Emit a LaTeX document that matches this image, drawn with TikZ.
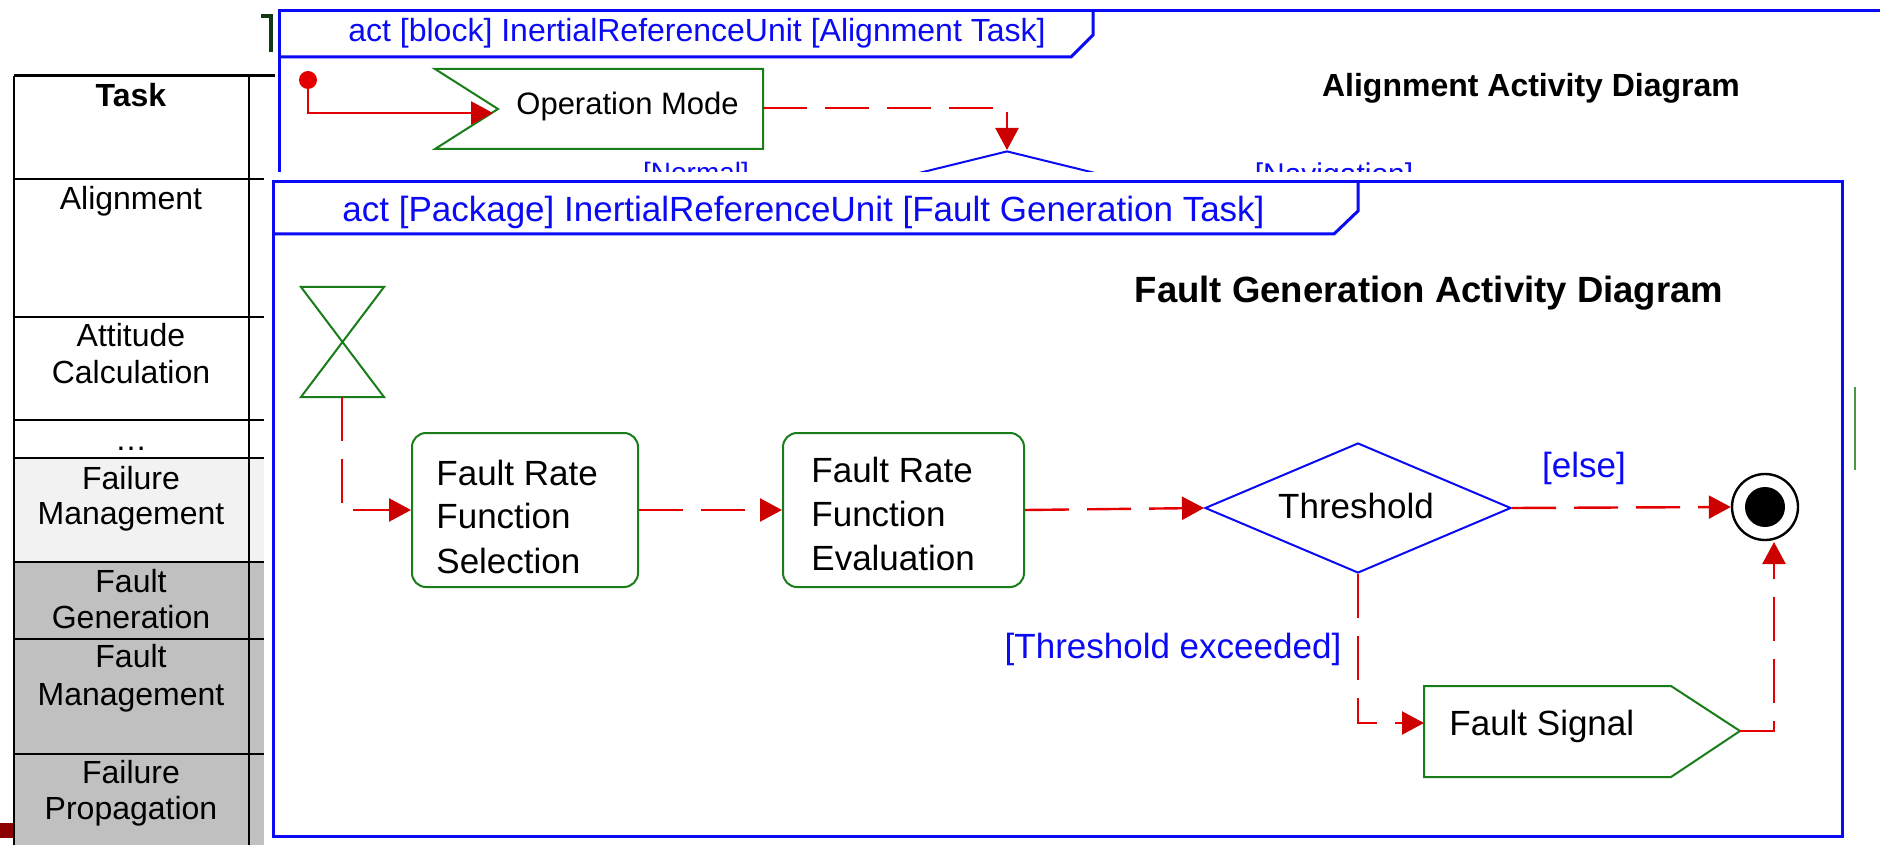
\documentclass[tikz,border=0pt]{standalone}
\usepackage{fontspec}
\setmainfont{Liberation Sans}
\usetikzlibrary{arrows.meta,shapes.geometric}

\definecolor{umlblue}{RGB}{10,10,245}
\definecolor{umlred}{RGB}{228,0,0}
\definecolor{tipred}{RGB}{205,0,0}
\definecolor{umlgreen}{RGB}{25,125,25}
\definecolor{rowgray}{RGB}{192,192,192}
\definecolor{rowlight}{RGB}{242,242,242}
\definecolor{slidemark}{RGB}{140,0,0}
\definecolor{cornergreen}{RGB}{20,55,20}

\tikzset{
  tblline/.style={black, line width=1.2pt},
  tbltext/.style={inner sep=0pt, anchor=base, font=\fontsize{16pt}{18pt}\selectfont},
  framebox/.style={draw=umlblue, line width=1.5pt},
  headtext/.style={inner sep=0pt, anchor=base west, text=umlblue},
  titletext/.style={inner sep=0pt, anchor=base},
  nodetext/.style={inner sep=0pt, anchor=base west, font=\fontsize{17.5pt}{21pt}\selectfont},
  guard/.style={inner sep=0pt, anchor=base, text=umlblue, font=\fontsize{17.5pt}{21pt}\selectfont},
  actbox/.style={draw=umlgreen, line width=1pt, rounded corners=7pt, minimum width=#1, minimum height=77pt, inner sep=0pt},
  greenshape/.style={draw=umlgreen, line width=1pt},
  flow/.style={umlred, line width=1.2pt, dash pattern=on 22pt off 9pt, -{Triangle[length=11pt,width=11.5pt,color=tipred]}},
  solidflow/.style={umlred, line width=1.2pt, -{Triangle[length=11pt,width=11.5pt,color=tipred]}},
}

\begin{document}
\begin{tikzpicture}[x=0.5pt,y=-0.5pt]
\useasboundingbox (0,0) rectangle (1880,845);
\fill[white] (0,0) rectangle (1880,845);

% ---------- task table ----------
\fill[rowlight] (14,458) rectangle (264,562);
\fill[rowgray] (14,562) rectangle (264,845);
\fill[slidemark] (0,823) rectangle (14,838);
\draw[black, line width=1.5pt] (14,76) -- (275,76);
\draw[tblline] (14,76) -- (14,845);
\draw[tblline] (249,76) -- (249,845);
\foreach \yy in {179,317,420,458,562,639,754}
  \draw[black, line width=1pt] (14,\yy) -- (264,\yy);

\node[tbltext, font=\fontsize{16pt}{18pt}\selectfont\bfseries] (t-task) at (131,107) {Task};
\node[tbltext] (t-align) at (131,210) {Alignment};
\node[tbltext] (t-att1) at (131,347) {Attitude};
\node[tbltext] (t-att2) at (131,383) {Calculation};
\node[tbltext] (t-dots) at (131,450) {…};
\node[tbltext] (t-fm1) at (131,489) {Failure};
\node[tbltext] (t-fm2) at (131,524) {Management};
\node[tbltext] (t-fg1) at (131,592) {Fault};
\node[tbltext] (t-fg2) at (131,628) {Generation};
\node[tbltext] (t-fa1) at (131,667) {Fault};
\node[tbltext] (t-fa2) at (131,705) {Management};
\node[tbltext] (t-fp1) at (131,783) {Failure};
\node[tbltext] (t-fp2) at (131,819) {Propagation};

% ---------- alignment activity (background sheet) ----------
\draw[cornergreen, line width=1.6pt] (261,16) -- (271,16) -- (271,52);
\draw[framebox] (279,172) -- (279,11) -- (1880,11);
\draw[framebox] (279,57) -- (1071,57) -- (1093,35) -- (1093,11);
\node[headtext, font=\fontsize{16pt}{18pt}\selectfont] (a-head) at (348,42)
  {act [block] InertialReferenceUnit [Alignment Task]};
\node[titletext, font=\fontsize{16pt}{18pt}\selectfont\bfseries] (a-title) at (1531,97)
  {Alignment Activity Diagram};

\node[circle, fill=umlred, minimum size=9pt, inner sep=0pt] (a-start) at (308,80) {};
\draw[greenshape] (435,69) -- (763,69) -- (763,149) -- (435,149) -- (498,109) -- cycle;
\coordinate (om-in) at (493,113);
\coordinate (om-out) at (763,108);
\node[nodetext, font=\fontsize{15.5pt}{18pt}\selectfont] (om-text) at (516,115) {Operation Mode};
\node[diamond, draw=umlblue, line width=1pt, shape aspect=4, minimum width=170pt,
      minimum height=42pt, inner sep=0pt] (a-dec) at (1007,193) {};
\node[guard, anchor=north, font=\fontsize{14pt}{16pt}\selectfont] (g-normal) at (696,162) {[Normal]};
\node[guard, anchor=north, font=\fontsize{15pt}{17pt}\selectfont] (g-nav) at (1334,162) {[Navigation]};

\draw[solidflow] (a-start) |- (om-in);
\draw[flow] (om-out) -| (a-dec.north);

% ---------- fault generation activity (front sheet) ----------
\fill[white] (264,172) rectangle (1880,845);
\draw[framebox] (273,182) rectangle (1842,836);
\draw[framebox] (273,234) -- (1334,234) -- (1358,211) -- (1358,182);
\node[headtext, font=\fontsize{17.5pt}{21pt}\selectfont] (f-head) at (342,222)
  {act [Package] InertialReferenceUnit [Fault Generation Task]};
\node[titletext, font=\fontsize{18.25pt}{21pt}\selectfont\bfseries] (f-title) at (1429,303)
  {Fault Generation Activity Diagram};
\draw[umlgreen!80, line width=0.6pt] (1855,387) -- (1855,470);

% time event
\draw[greenshape] (301,287) -- (384,287) -- (301,397) -- (384,397) -- cycle;
\coordinate (hg-out) at (342,397);

% actions
\node[actbox=113pt] (sel) at (525,510) {};
\node[nodetext] (sel-1) at (436,485) {Fault Rate};
\node[nodetext] (sel-2) at (436,528) {Function};
\node[nodetext] (sel-3) at (436,573) {Selection};

\node[actbox=120.5pt] (eva) at (903.5,510) {};
\node[nodetext] (eva-1) at (811,482) {Fault Rate};
\node[nodetext] (eva-2) at (811,526) {Function};
\node[nodetext] (eva-3) at (811,570) {Evaluation};

% decision
\node[diamond, draw=umlblue, line width=1pt, shape aspect=2.35, minimum width=153pt,
      minimum height=65pt, inner sep=0pt] (thr) at (1358,508) {};
\node[nodetext, anchor=base] (thr-text) at (1356,518) {Threshold};

% final node
\node[circle, draw=black, line width=1.2pt, minimum size=33pt, inner sep=0pt] (fin) at (1765,507) {};
\node[circle, fill=black, minimum size=20pt, inner sep=0pt] (fin-dot) at (fin) {};
\coordinate (fin-in) at (1774,542);

% send signal
\draw[greenshape] (1424,686) -- (1671,686) -- (1740,731) -- (1671,777) -- (1424,777) -- cycle;
\coordinate (fs-in) at (1424,723);
\coordinate (fs-out) at (1740,731);
\node[nodetext] (fs-text) at (1449,735) {Fault Signal};

% guards
\node[guard] (g-else) at (1584,477) {[else]};
\node[guard] (g-exc) at (1173,658) {[Threshold exceeded]};

% flows
\draw[flow] (hg-out) |- (sel.west);
\draw[flow] (sel.east) -- (eva.west);
\draw[flow] (eva.east) -- (thr.west);
\draw[flow] (thr.east) -- (fin.west);
\draw[flow] (thr.south) |- (fs-in);
\draw[flow] (fs-out) -| (fin-in);
\end{tikzpicture}
\end{document}
